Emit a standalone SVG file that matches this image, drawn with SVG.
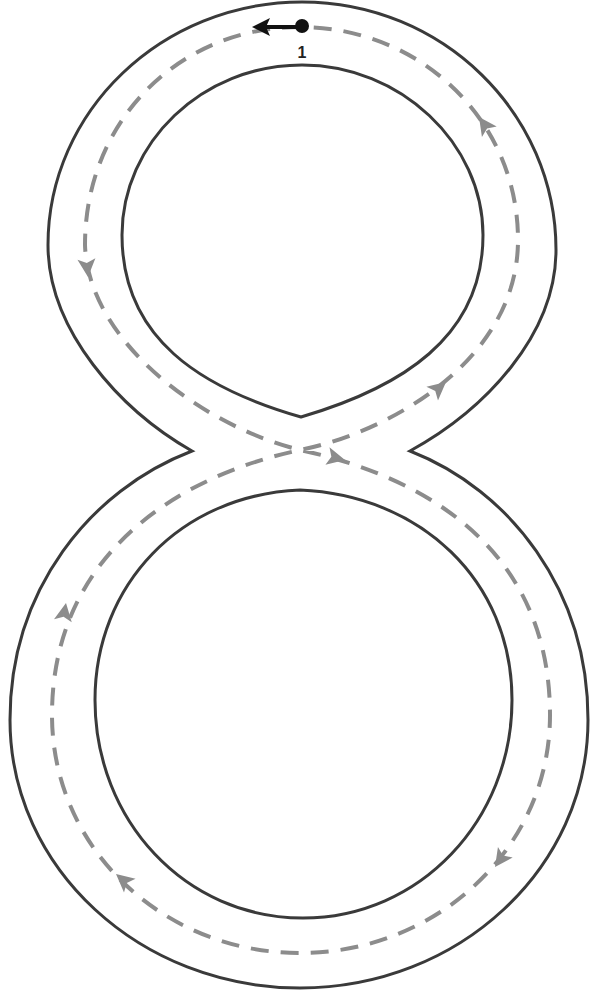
<svg xmlns="http://www.w3.org/2000/svg" width="596" height="991" viewBox="0 0 596 991">
<style>
.outline{fill:none;stroke:#3a3a3a;stroke-width:3;stroke-linejoin:miter}
.track{fill:none;stroke:#8c8c8c;stroke-width:4;stroke-dasharray:18 12}
.ah{fill:#8c8c8c}
.lbl{font-family:"Liberation Sans",Arial,sans-serif;font-size:16px;font-weight:bold;fill:#222}
</style>
<defs>
<path id="ahead" d="M0 0 L-18 -9 L-14 0 L-18 9 Z"/>
</defs>
<rect width="596" height="991" fill="#ffffff"/>
<g id="outer-outline">
<path class="outline" d="M192 451 C120 410 48 330 48 245 C48 111 162 2 302 2 C442 2 556 113 556 250 C556 335 485 410 410 451 C510 490 588 590 588 720 C588 868 459 988 300 988 C140 988 10 868 10 720 C10 590 90 490 192 451 Z"/>
</g>
<g id="top-hole">
<path class="outline" d="M301 417 C200 388 122 338 122 235 C122 143 202 65 302 65 C400 65 483 143 483 235 C483 338 400 388 301 417 Z"/>
</g>
<g id="bottom-hole">
<path class="outline" d="M300 490 C420 495 512 580 512 700 C512 820 420 918 303 918 C185 918 95 820 95 700 C95 585 180 495 300 490 Z"/>
</g>
<g id="connectors">
<path class="track" d="M300 27 C180 27 85 120 85 245 C88 340 200 425 300 450 C440 480 550 560 550 715 C550 850 435 953 300 953 C165 953 52 850 52 715 C52 560 170 478 300 450 C390 432 518 360 518 240 C518 120 420 27 300 27"/>
<g class="ah">
<use href="#ahead" transform="translate(88 277) rotate(85)"/>
<use href="#ahead" transform="translate(345 460) rotate(13)"/>
<use href="#ahead" transform="translate(446 382) rotate(-40)"/>
<use href="#ahead" transform="translate(479 117) rotate(-125)"/>
<use href="#ahead" transform="translate(495 867) rotate(125)"/>
<use href="#ahead" transform="translate(116 874) rotate(-140)"/>
<use href="#ahead" transform="translate(66 603) rotate(-80)"/>
</g>
</g>
<g id="start">
<line x1="302" y1="27" x2="266" y2="27" stroke="#111" stroke-width="4"/>
<path d="M252 27 L270 18 L266 27 L270 36 Z" fill="#111"/>
<circle cx="302" cy="26" r="7" fill="#111"/>
<text class="lbl" x="302" y="58" text-anchor="middle">1</text>
</g>
</svg>
